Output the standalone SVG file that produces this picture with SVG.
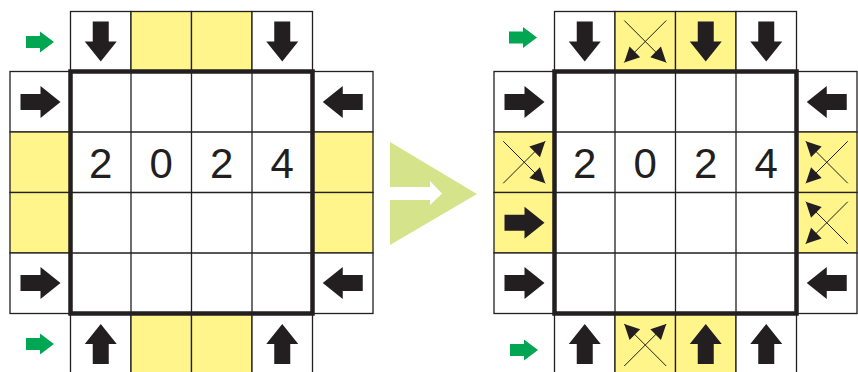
<svg xmlns="http://www.w3.org/2000/svg" xmlns:xlink="http://www.w3.org/1999/xlink" width="858" height="372" viewBox="0 0 858 372">
  <style>
    .cell { fill: #ffffff; stroke: #231f20; stroke-width: 1.3; }
    .yel { fill: #fff58a; }
    .frame { fill: none; stroke: #231f20; stroke-width: 4.5; }
    .digit { font-family: "Liberation Sans", Arial, sans-serif; font-size: 42px; fill: #231f20; text-anchor: middle; }
    .ink { fill: #231f20; }
    .go { fill: #00a651; }
    .x { stroke: #231f20; stroke-width: 1; fill: none; marker-end: url(#tip); }
  </style>
  <defs>
    <!-- block arrow pointing right, centred on the origin -->
    <path id="arr" class="ink" d="M-20,-8 H0 V-16 L20,0 L0,16 V8 H-20 Z"/>
    <!-- small green start arrow -->
    <path id="garr" class="go" d="M-14,-6 H0 V-10.5 L14,0 L0,10.5 V6 H-14 Z"/>
    <marker id="tip" viewBox="-16 -8 17 16" refX="0" refY="0" markerWidth="17" markerHeight="16" markerUnits="userSpaceOnUse" orient="auto">
      <path d="M0,0 L-15,-7.5 L-15,7.5 Z" fill="#231f20"/>
    </marker>
  </defs>

  <!-- left board -->
  <g id="board-left">
    <g id="left-top">
      <rect class="cell" x="70.5" y="11.5" width="60.5" height="60"/>
      <rect class="cell yel" x="131" y="11.5" width="60.5" height="60"/>
      <rect class="cell yel" x="191.5" y="11.5" width="60.5" height="60"/>
      <rect class="cell" x="252" y="11.5" width="60.5" height="60"/>
    </g>
    <g id="left-bottom">
      <rect class="cell" x="70.5" y="313.5" width="60.5" height="62"/>
      <rect class="cell yel" x="131" y="313.5" width="60.5" height="62"/>
      <rect class="cell yel" x="191.5" y="313.5" width="60.5" height="62"/>
      <rect class="cell" x="252" y="313.5" width="60.5" height="62"/>
    </g>
    <g id="left-west">
      <rect class="cell" x="10" y="71.5" width="60.5" height="60.5"/>
      <rect class="cell yel" x="10" y="132" width="60.5" height="60.5"/>
      <rect class="cell yel" x="10" y="192.5" width="60.5" height="60.5"/>
      <rect class="cell" x="10" y="253" width="60.5" height="60.5"/>
    </g>
    <g id="left-east">
      <rect class="cell" x="312.5" y="71.5" width="60.5" height="60.5"/>
      <rect class="cell yel" x="312.5" y="132" width="60.5" height="60.5"/>
      <rect class="cell yel" x="312.5" y="192.5" width="60.5" height="60.5"/>
      <rect class="cell" x="312.5" y="253" width="60.5" height="60.5"/>
    </g>
    <g id="left-inner">
      <rect class="cell" x="70.5" y="71.5" width="242" height="242"/>
      <path d="M131,71.5 V313.5 M191.5,71.5 V313.5 M252,71.5 V313.5 M70.5,132 H312.5 M70.5,192.5 H312.5 M70.5,253 H312.5" stroke="#231f20" stroke-width="1.3" fill="none"/>
      <rect class="frame" x="70.5" y="71.5" width="242" height="242"/>
      <text class="digit" x="100.75" y="177.5">2</text>
      <text class="digit" x="161.25" y="177.5">0</text>
      <text class="digit" x="221.75" y="177.5">2</text>
      <text class="digit" x="282.25" y="177.5">4</text>
    </g>
    <g id="left-arrows">
      <use xlink:href="#arr" transform="translate(100.75,41.5) rotate(90)"/>
      <use xlink:href="#arr" transform="translate(282.25,41.5) rotate(90)"/>
      <use xlink:href="#arr" transform="translate(100.75,344) rotate(-90)"/>
      <use xlink:href="#arr" transform="translate(282.25,344) rotate(-90)"/>
      <use xlink:href="#arr" transform="translate(40.5,102)"/>
      <use xlink:href="#arr" transform="translate(40.5,283)"/>
      <use xlink:href="#arr" transform="translate(342.75,102) rotate(180)"/>
      <use xlink:href="#arr" transform="translate(342.75,283) rotate(180)"/>
      <use xlink:href="#garr" transform="translate(40,42)"/>
      <use xlink:href="#garr" transform="translate(40,344)"/>
    </g>
  </g>

  <!-- transition arrow between the boards -->
  <g id="transition">
    <path d="M390,142 L477,194 L390,245 Z" fill="#d5e48a"/>
    <path d="M389,187 H430 V181 L442,193.5 L430,205 V200 H389 Z" fill="#ffffff"/>
  </g>

  <!-- right board -->
  <g id="board-right">
    <g id="right-top">
      <rect class="cell" x="554.5" y="11.5" width="60.5" height="60"/>
      <rect class="cell yel" x="615" y="11.5" width="60.5" height="60"/>
      <rect class="cell yel" x="675.5" y="11.5" width="60.5" height="60"/>
      <rect class="cell" x="736" y="11.5" width="60.5" height="60"/>
    </g>
    <g id="right-bottom">
      <rect class="cell" x="554.5" y="313.5" width="60.5" height="62"/>
      <rect class="cell yel" x="615" y="313.5" width="60.5" height="62"/>
      <rect class="cell yel" x="675.5" y="313.5" width="60.5" height="62"/>
      <rect class="cell" x="736" y="313.5" width="60.5" height="62"/>
    </g>
    <g id="right-west">
      <rect class="cell" x="494" y="71.5" width="60.5" height="60.5"/>
      <rect class="cell yel" x="494" y="132" width="60.5" height="60.5"/>
      <rect class="cell yel" x="494" y="192.5" width="60.5" height="60.5"/>
      <rect class="cell" x="494" y="253" width="60.5" height="60.5"/>
    </g>
    <g id="right-east">
      <rect class="cell" x="796.5" y="71.5" width="60.5" height="60.5"/>
      <rect class="cell yel" x="796.5" y="132" width="60.5" height="60.5"/>
      <rect class="cell yel" x="796.5" y="192.5" width="60.5" height="60.5"/>
      <rect class="cell" x="796.5" y="253" width="60.5" height="60.5"/>
    </g>
    <g id="right-inner">
      <rect class="cell" x="554.5" y="71.5" width="242" height="242"/>
      <path d="M615,71.5 V313.5 M675.5,71.5 V313.5 M736,71.5 V313.5 M554.5,132 H796.5 M554.5,192.5 H796.5 M554.5,253 H796.5" stroke="#231f20" stroke-width="1.3" fill="none"/>
      <rect class="frame" x="554.5" y="71.5" width="242" height="242"/>
      <text class="digit" x="584.75" y="177.5">2</text>
      <text class="digit" x="645.25" y="177.5">0</text>
      <text class="digit" x="705.75" y="177.5">2</text>
      <text class="digit" x="766.25" y="177.5">4</text>
    </g>
    <g id="right-arrows">
      <use xlink:href="#arr" transform="translate(584.75,41.5) rotate(90)"/>
      <use xlink:href="#arr" transform="translate(705.75,41.5) rotate(90)"/>
      <use xlink:href="#arr" transform="translate(766.25,41.5) rotate(90)"/>
      <use xlink:href="#arr" transform="translate(584.75,344) rotate(-90)"/>
      <use xlink:href="#arr" transform="translate(705.75,344) rotate(-90)"/>
      <use xlink:href="#arr" transform="translate(766.25,344) rotate(-90)"/>
      <use xlink:href="#arr" transform="translate(524.5,102)"/>
      <use xlink:href="#arr" transform="translate(524.5,222.75)"/>
      <use xlink:href="#arr" transform="translate(524.5,283)"/>
      <use xlink:href="#arr" transform="translate(826.75,102) rotate(180)"/>
      <use xlink:href="#arr" transform="translate(826.75,283) rotate(180)"/>
      <use xlink:href="#garr" transform="translate(523,37.5)"/>
      <use xlink:href="#garr" transform="translate(524,350)"/>
    </g>
    <!-- split (crossed) arrows -->
    <g id="right-crosses">
      <line class="x" x1="624.25" y1="20.5" x2="666.25" y2="62.5"/>
      <line class="x" x1="666.25" y1="20.5" x2="624.25" y2="62.5"/>
      <line class="x" x1="503.25" y1="183.25" x2="545.25" y2="141.25"/>
      <line class="x" x1="503.25" y1="141.25" x2="545.25" y2="183.25"/>
      <line class="x" x1="847.75" y1="183.25" x2="805.75" y2="141.25"/>
      <line class="x" x1="847.75" y1="141.25" x2="805.75" y2="183.25"/>
      <line class="x" x1="847.75" y1="243.75" x2="805.75" y2="201.75"/>
      <line class="x" x1="847.75" y1="201.75" x2="805.75" y2="243.75"/>
      <line class="x" x1="624.25" y1="366" x2="666.25" y2="324"/>
      <line class="x" x1="666.25" y1="366" x2="624.25" y2="324"/>
    </g>
  </g>
</svg>
